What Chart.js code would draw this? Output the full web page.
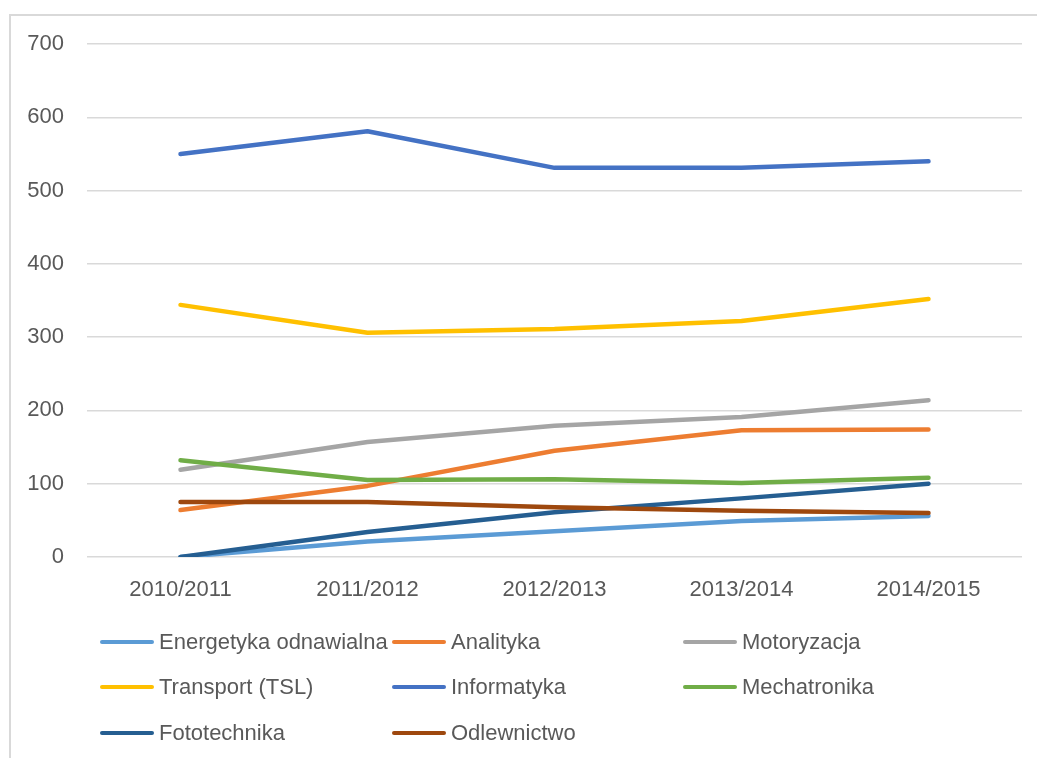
<!DOCTYPE html>
<html>
<head>
<meta charset="utf-8">
<script src="https://cdn.jsdelivr.net/npm/chart.js@4.4.0/dist/chart.umd.min.js"></script>
<style>
    html, body { margin: 0; padding: 0; background: #fff; overflow: hidden; }
    #wrap { position: relative; width: 1037px; height: 758px; }
    #frame { position: absolute; left: 9px; top: 14px; width: 1100px; height: 800px; border: 2px solid #d9d9d9; }
    #chart { position: absolute; left: 0; top: 0; }
    .legend-item { position: absolute; height: 24px; display: flex; align-items: center;
        font-family: "Liberation Sans", Arial, sans-serif; font-size: 22px; color: #595959; white-space: nowrap; }
    .legend-line { width: 54px; height: 4px; border-radius: 2px; margin-right: 5px; }
</style>
</head>
<body>
<div id="wrap">
    <div id="frame"></div>
    <canvas id="chart" width="1037" height="758"></canvas>
    <div id="legend"></div>
</div>
<script>
const years = ['2010/2011', '2011/2012', '2012/2013', '2013/2014', '2014/2015'];

const seriesNames = ['Energetyka odnawialna', 'Analityka', 'Motoryzacja', 'Transport (TSL)',
    'Informatyka', 'Mechatronika', 'Fototechnika', 'Odlewnictwo'];

const energetyka = [0, 21, 35, 49, 56];
const analityka = [64, 97, 145, 173, 174];
const motoryzacja = [119, 157, 179, 191, 214];
const transport = [344, 306, 311, 322, 352];
const informatyka = [550, 581, 531, 531, 540];
const mechatronika = [132, 105, 106, 101, 108];
const fototechnika = [0, 34, 61, 80, 100];
const odlewnictwo = [75, 75, 68, 63, 60];

const yTicks = [0, 100, 200, 300, 400, 500, 600, 700];

const seriesValues = [energetyka, analityka, motoryzacja, transport,
    informatyka, mechatronika, fototechnika, odlewnictwo];
const seriesColors = ['#5B9BD5', '#ED7D31', '#A5A5A5', '#FFC000',
    '#4472C4', '#70AD47', '#255E91', '#9E480E'];

// legend positions (3 columns, Excel style)
const legendCols = [100, 392, 683];
const legendRows = [642, 687, 733];

const ctx = document.getElementById('chart').getContext('2d');
const chart = new Chart(ctx, {
    type: 'line',
    data: {
        labels: years,
        datasets: seriesNames.map((name, i) => ({
            label: name,
            data: seriesValues[i],
            borderColor: seriesColors[i],
            backgroundColor: seriesColors[i],
            borderWidth: 4.5,
            borderCapStyle: 'round',
            borderJoinStyle: 'round',
            pointRadius: 0,
            tension: 0,
            order: -i  // later series drawn on top
        }))
    },
    options: {
        responsive: false,
        animation: false,
        layout: { padding: { left: 0, right: 15, top: 44, bottom: 0 } },
        plugins: {
            legend: { display: false },
            tooltip: { enabled: false }
        },
        scales: {
            x: {
                offset: true,
                grid: { display: false, drawTicks: false },
                border: { display: false },
                ticks: {
                    color: '#595959',
                    font: { family: '"Liberation Sans", Arial, sans-serif', size: 22 },
                    padding: 20,
                    maxRotation: 0
                },
                afterFit: s => { s.height = 201; }
            },
            y: {
                min: 0,
                max: 700,
                afterBuildTicks: s => { s.ticks = yTicks.map(v => ({ value: v })); },
                grid: { color: '#d9d9d9', lineWidth: 1.5, drawTicks: false },
                border: { display: false },
                ticks: {
                    color: '#595959',
                    font: { family: '"Liberation Sans", Arial, sans-serif', size: 22 },
                    padding: 23
                },
                afterFit: s => { s.width = 87; }
            }
        }
    }
});

// HTML legend
const legendEl = document.getElementById('legend');
seriesNames.forEach((name, i) => {
    const item = document.createElement('div');
    item.className = 'legend-item';
    item.style.left = legendCols[i % 3] + 'px';
    item.style.top = (legendRows[Math.floor(i / 3)] - 12) + 'px';
    const line = document.createElement('span');
    line.className = 'legend-line';
    line.style.background = seriesColors[i];
    item.appendChild(line);
    item.appendChild(document.createTextNode(name));
    legendEl.appendChild(item);
});
</script>
</body>
</html>
